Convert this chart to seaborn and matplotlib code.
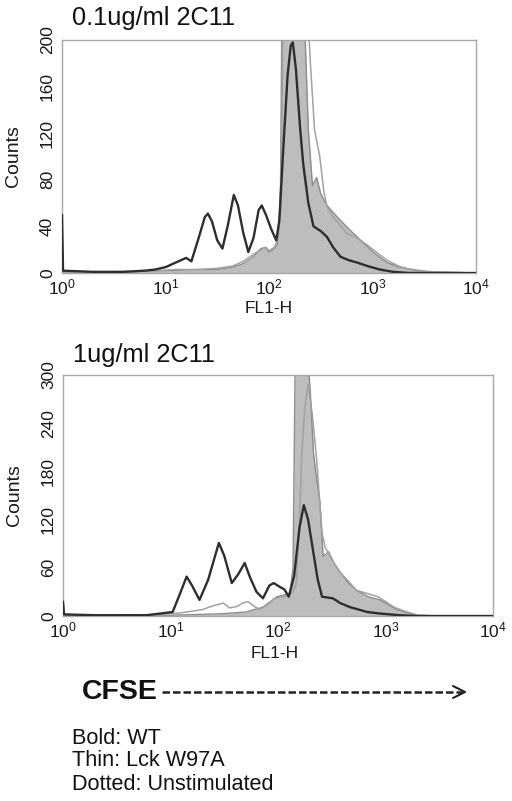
import numpy as np
import pandas as pd
import matplotlib
matplotlib.use("Agg")
import matplotlib.pyplot as plt
import seaborn as sns
from matplotlib.lines import Line2D
from matplotlib.ticker import FixedLocator, NullLocator, LogFormatterSciNotation

sns.set_theme(style="white")
plt.rcParams['font.family'] = ['Liberation Sans', 'DejaVu Sans']
plt.rcParams['mathtext.fontset'] = 'custom'
plt.rcParams['mathtext.rm'] = 'Liberation Sans'
plt.rcParams['mathtext.it'] = 'Liberation Sans:italic'
plt.rcParams['mathtext.bf'] = 'Liberation Sans:bold'

# ---------------- data (log10 FL1-H, counts) ----------------
# Panel 1: 0.1ug/ml 2C11
top_wt_log = [0, 0.01, 0.3, 0.6, 0.8, 0.9, 1.0, 1.1, 1.2, 1.25, 1.32, 1.38, 1.41, 1.45, 1.5, 1.55,
              1.6, 1.66, 1.7, 1.75, 1.80, 1.85, 1.9, 1.93, 1.97, 2.02, 2.07, 2.10, 2.14, 2.18, 2.21,
              2.23, 2.26, 2.30, 2.33, 2.38, 2.43, 2.5, 2.56, 2.62, 2.69, 2.77, 2.85, 2.95, 3.07, 3.2,
              3.35, 4.0]
top_wt_cnt = [50, 2, 1, 1, 2, 3, 5, 9, 13, 10, 30, 48, 51, 44, 28, 21,
              40, 67, 58, 35, 18, 30, 54, 58, 50, 38, 28, 45, 110, 170, 195,
              198, 175, 125, 94, 60, 40, 36, 31, 22, 14, 11, 9, 6, 3, 1,
              0, 0]

top_uns_log = [0, 0.5, 1.0, 1.3, 1.5, 1.65, 1.75, 1.85, 1.92, 1.97, 2.0, 2.04, 2.08, 2.11, 2.13,
               2.16, 2.2, 2.25, 2.3, 2.35, 2.38, 2.42, 2.46, 2.5, 2.56, 2.66, 2.78, 2.91, 3.02,
               3.14, 3.26, 3.39, 3.55, 4.0]
top_uns_cnt = [1, 1, 2, 3, 3, 5, 8, 14, 21, 22, 18, 20, 24, 60, 280,
               330, 340, 320, 280, 200, 123, 75, 82, 68, 58, 48, 37, 26, 17,
               9, 5, 3, 1, 0]

top_mut_log = [0, 0.5, 0.9, 1.1, 1.3, 1.5, 1.65, 1.75, 1.85, 1.92, 1.97, 2.0, 2.05, 2.09, 2.12,
               2.14, 2.18, 2.25, 2.32, 2.37, 2.40, 2.44, 2.49, 2.53, 2.56, 2.62, 2.68, 2.75, 2.85,
               2.95, 3.05, 3.14, 3.25, 3.4, 3.6, 4.0]
top_mut_cnt = [1, 1, 2, 3, 3, 4, 6, 10, 16, 20, 22, 19, 22, 30, 90,
               260, 330, 340, 300, 230, 180, 123, 100, 70, 57, 48, 42, 34, 30,
               24, 17, 11, 6, 2, 1, 0]

# Panel 2: 1ug/ml 2C11
bot_wt_log = [0, 0.01, 0.3, 0.6, 0.78, 0.9, 1.02, 1.08, 1.15, 1.2, 1.27, 1.35, 1.45, 1.5, 1.57,
              1.63, 1.69, 1.74, 1.8, 1.86, 1.92, 1.96, 2.02, 2.06, 2.10, 2.15, 2.2, 2.24, 2.28,
              2.33, 2.37, 2.41, 2.46, 2.51, 2.58, 2.67, 2.75, 2.83, 2.95, 3.13, 3.3, 4.0]
bot_wt_cnt = [18, 2, 1, 1, 1, 3, 5, 25, 49, 38, 20, 45, 91, 75, 41,
              52, 66, 48, 30, 22, 38, 41, 36, 33, 24, 50, 110, 138, 120,
              78, 45, 24, 23, 22, 16, 11, 8, 5, 3, 1, 0, 0]

bot_uns_log = [0, 0.5, 1.0, 1.3, 1.5, 1.6, 1.7, 1.78, 1.86, 1.93, 1.99, 2.05, 2.11, 2.14, 2.16,
               2.2, 2.24, 2.27, 2.30, 2.33, 2.36, 2.39, 2.42, 2.47, 2.52, 2.58, 2.65, 2.73, 2.84,
               2.95, 3.03, 3.1, 3.2, 3.3, 3.5, 4.0]
bot_uns_cnt = [1, 1, 1, 2, 3, 4, 5, 8, 11, 18, 24, 26, 28, 60, 320,
               340, 345, 330, 280, 203, 170, 141, 74, 80, 66, 54, 42, 32, 24,
               20, 14, 8, 4, 1, 0, 0]

bot_mut_log = [0, 0.5, 0.9, 1.0, 1.1, 1.2, 1.3, 1.38, 1.43, 1.49, 1.55, 1.62, 1.67, 1.72, 1.78,
               1.83, 1.9, 1.97, 2.04, 2.1, 2.14, 2.17, 2.2, 2.22, 2.25, 2.28, 2.32, 2.36, 2.41,
               2.44, 2.47, 2.52, 2.58, 2.65, 2.73, 2.83, 2.93, 3.0, 3.08, 3.18, 3.3, 3.5, 4.0]
bot_mut_cnt = [1, 1, 2, 3, 4, 6, 8, 12, 14, 16, 10, 12, 16, 18, 12,
               8, 14, 22, 24, 26, 30, 40, 120, 200, 260, 288, 250, 194, 103,
               85, 78, 66, 54, 44, 32, 28, 24, 18, 11, 6, 1, 0, 0]

titles = ["0.1ug/ml 2C11", "1ug/ml 2C11"]
y_max = [200, 300]
y_ticks = [[0, 40, 80, 120, 160, 200], [0, 60, 120, 180, 240, 300]]
x_ticks = [1, 10, 100, 1000, 10000]
legend_lines = ["Bold: WT", "Thin: Lck W97A", "Dotted: Unstimulated"]

# ---------------- figure ----------------
W, H = 512, 801
fig = plt.figure(figsize=(W / 100, H / 100), dpi=100)

def fx(px):
    return px / W

def fy(py):
    return 1 - py / H

ax_specs = [(62, 476, 40, 273), (63, 493, 375, 616)]
panels = [
    (top_wt_log, top_wt_cnt, top_uns_log, top_uns_cnt, top_mut_log, top_mut_cnt),
    (bot_wt_log, bot_wt_cnt, bot_uns_log, bot_uns_cnt, bot_mut_log, bot_mut_cnt),
]

FILL = "#bdbdbd"
FILL_EDGE = "#8c8c8c"
THIN = "#a2a2a2"
BOLD = "#2e2e2e"
SPINE = "#a8a8a8"

for i, ((l, r, t, b), data) in enumerate(zip(ax_specs, panels)):
    ax = fig.add_axes([fx(l), fy(b), fx(r) - fx(l), fy(t) - fy(b)])
    wl, wc, ul, uc, ml, mc = data
    ux = 10 ** np.array(ul, dtype=float)
    ax.fill_between(ux, uc, 0, color=FILL, lw=0, zorder=1)
    sns.lineplot(x=ux, y=uc, ax=ax, color=FILL_EDGE, lw=1.0, zorder=2, estimator=None)
    sns.lineplot(x=10 ** np.array(ml, dtype=float), y=mc, ax=ax, color=THIN, lw=1.1,
                 zorder=3, estimator=None)
    sns.lineplot(x=10 ** np.array(wl, dtype=float), y=wc, ax=ax, color=BOLD, lw=1.7,
                 zorder=4, estimator=None)
    ax.set_xscale("log")
    ax.set_xlim(1, 1e4)
    ax.set_ylim(0, y_max[i])
    ax.xaxis.set_major_locator(FixedLocator(x_ticks))
    ax.xaxis.set_major_formatter(LogFormatterSciNotation())
    ax.xaxis.set_minor_locator(NullLocator())
    ax.set_yticks(y_ticks[i])
    ax.tick_params(axis="both", length=0, labelsize=12.5, colors="#1a1a1a")
    ax.tick_params(axis="y", pad=5)
    ax.tick_params(axis="x", pad=3)
    for lab in ax.get_yticklabels():
        lab.set_rotation(90)
        lab.set_va("center")
    for sp in ax.spines.values():
        sp.set_color(SPINE)
        sp.set_linewidth(1.0)
    ax.set_xlabel("FL1-H", fontsize=12.5, color="#1a1a1a")
    ax.set_ylabel("Counts", fontsize=14, color="#1a1a1a")
    wpx = r - l
    hpx = b - t
    xl_y = [301, 646][i]
    xl_x = [269, 275][i]
    yl_x = [22, 23][i]
    ax.xaxis.set_label_coords((xl_x - l) / wpx, (b - xl_y) / hpx)
    ax.yaxis.set_label_coords((yl_x - l) / wpx, 0.5)
    ax.grid(False)

# panel titles
fig.text(fx(72), fy(18), titles[0], fontsize=18.3, va="center", ha="left", color="#111111")
fig.text(fx(73), fy(355), titles[1], fontsize=18.3, va="center", ha="left", color="#111111")

# CFSE arrow
fig.text(fx(82), fy(692), "CFSE", fontsize=20.5, fontweight="bold", va="center", ha="left",
         color="#111111")
fig.add_artist(Line2D([fx(162), fx(462)], [fy(692), fy(692)], transform=fig.transFigure,
                      color="#222222", lw=1.8, linestyle=(0, (3.0, 1.2))))
fig.add_artist(Line2D([fx(453), fx(465), fx(453)], [fy(686), fy(692), fy(698)],
                      transform=fig.transFigure, color="#222222", lw=1.5))

# legend text
for txt, py in zip(legend_lines, [739, 761, 785]):
    fig.text(fx(72), fy(py), txt, fontsize=15.6, va="center", ha="left", color="#111111")

fig.savefig("out.png", dpi=100)
